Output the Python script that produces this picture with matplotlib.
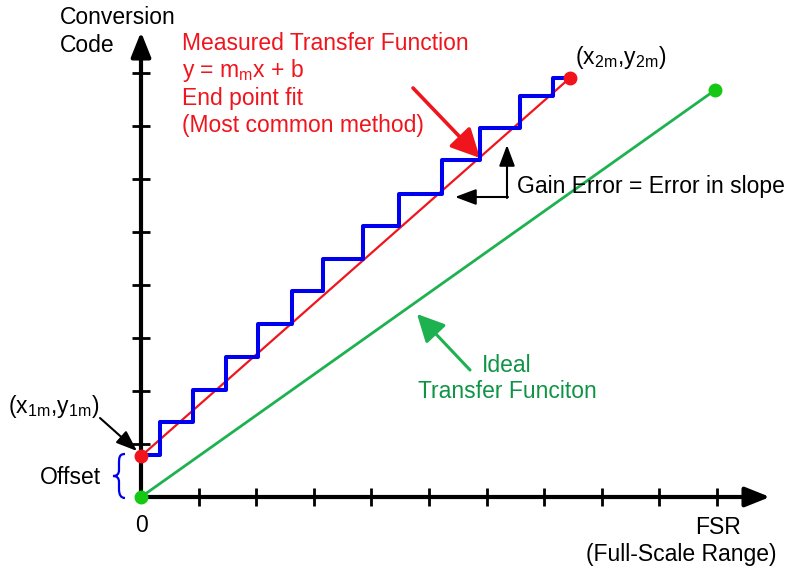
import matplotlib
matplotlib.use('Agg')
import matplotlib.pyplot as plt
from matplotlib.path import Path
from matplotlib.patches import PathPatch

plt.rcParams['font.family'] = ['Liberation Sans', 'DejaVu Sans']
plt.rcParams['mathtext.fontset'] = 'custom'
plt.rcParams['mathtext.rm'] = 'Liberation Sans'
plt.rcParams['mathtext.it'] = 'Liberation Sans'
plt.rcParams['mathtext.default'] = 'regular'

# x in LSB steps (FSR = 10), y in code ticks
x_ticks = [1, 2, 3, 4, 5, 6, 7, 8, 9, 10]
y_ticks = [1, 2, 3, 4, 5, 6, 7, 8]

# measured staircase: x where code changes, code levels
step_x = [0.33, 0.90, 1.48, 2.03, 2.62, 3.16, 3.85, 4.48, 5.23, 5.89, 6.58, 7.15]
step_y = [0.79, 1.42, 2.02, 2.64, 3.26, 3.89, 4.49, 5.11, 5.72, 6.36, 6.96, 7.57, 7.91]

measured_x = [0.0, 7.45]
measured_y = [0.77, 7.91]
ideal_x = [0.0, 9.97]
ideal_y = [0.0, 7.68]

RED = '#f0141c'
GREEN_LINE = '#1db24f'
GREEN_DOT = '#14c814'
GREEN_TXT = '#0f9445'
BLUE = '#0000f0'

W, H = 788, 569
X0, Y0, SX, SY = 141, 497, 57.6, 53.0


def p(px, py):
    # pixel position on the picture -> data coords
    return ((px - X0) / SX, (Y0 - py) / SY)


fig = plt.figure(figsize=(W / 100, H / 100), dpi=100)
ax = fig.add_axes([0, 0, 1, 1])
ax.set_xlim(p(0, 0)[0], p(W, 0)[0])
ax.set_ylim(p(0, H)[1], p(0, 0)[1])
ax.axis('off')

# axes with arrow heads
axis_style = dict(arrowstyle='-|>,head_length=0.75,head_width=0.3', lw=3, color='black',
                  mutation_scale=20, shrinkA=0, shrinkB=0)
ax.annotate('', xy=p(770, Y0), xytext=p(X0 - 3, Y0), arrowprops=axis_style)
ax.annotate('', xy=p(X0, 32), xytext=p(X0, Y0 + 2), arrowprops=axis_style)

tx = 9 / SX
ty = 9 / SY
ax.vlines(x_ticks, -ty, ty, color='black', lw=2.0)
ax.hlines(y_ticks, -tx, tx, color='black', lw=2.0)

# ideal and measured lines
ax.plot(ideal_x, ideal_y, color=GREEN_LINE, lw=2.0, zorder=3)
ax.plot(measured_x, measured_y, color=RED, lw=1.6, zorder=3)

xs = [0.0] + step_x + [measured_x[1]]
ys = step_y + [step_y[-1]]
ax.step(xs, ys, where='post', color=BLUE, lw=2.9, zorder=4)

ax.plot(ideal_x, ideal_y, 'o', color=GREEN_DOT, ms=9, zorder=6)
ax.plot(measured_x, measured_y, 'o', color=RED, ms=9, zorder=6)

# offset brace
verts = [(125, 454), (119, 454), (119, 458), (119, 464), (119, 470),
         (119, 474), (117, 476), (113, 476), (117, 476), (119, 478), (119, 482),
         (119, 489), (119, 495), (121, 498), (125, 498)]
codes = [Path.MOVETO] + [Path.CURVE4] * 3 + [Path.LINETO] + [Path.CURVE4] * 6 + \
        [Path.LINETO] + [Path.CURVE4] * 3
ax.add_patch(PathPatch(Path([p(*v) for v in verts], codes), fill=False,
                       edgecolor=BLUE, lw=1.6))

# annotation arrows
ax.annotate('', xy=p(480, 158), xytext=p(413, 88),
            arrowprops=dict(arrowstyle='-|>,head_length=0.8,head_width=0.4', lw=2.6,
                            color=RED, mutation_scale=22, shrinkA=0, shrinkB=0))
ax.annotate('', xy=p(417, 314), xytext=p(470, 370),
            arrowprops=dict(arrowstyle='-|>,head_length=0.8,head_width=0.4', lw=2.2,
                            color=GREEN_LINE, mutation_scale=21, shrinkA=0, shrinkB=0))
blk = dict(arrowstyle='-|>,head_length=0.8,head_width=0.3', lw=1.5, color='black',
           mutation_scale=16, shrinkA=0, shrinkB=0)
ax.annotate('', xy=p(137, 451), xytext=p(100, 418), arrowprops=blk)
ax.annotate('', xy=p(507, 145), xytext=p(507, 198), arrowprops=blk)
ax.annotate('', xy=p(455, 197), xytext=p(508, 197), arrowprops=blk)

# texts
fs = 16.5
ax.text(*p(60, 18), 'Conversion', fontsize=fs, va='center', ha='left')
ax.text(*p(60, 45), 'Code', fontsize=fs, va='center', ha='left')
red_lines = ['Measured Transfer Function', 'y = m$_{m}$x + b', 'End point fit',
             '(Most common method)']
for i, s in enumerate(red_lines):
    ax.text(*p(182, 43 + 27.5 * i), s, fontsize=fs, color=RED, va='center', ha='left')
ax.text(*p(575, 58), '(x$_{2m}$,y$_{2m}$)', fontsize=fs, va='center', ha='left')
ax.text(*p(517, 187), 'Gain Error = Error in slope', fontsize=fs, va='center', ha='left')
ax.text(*p(8, 407), '(x$_{1m}$,y$_{1m}$)', fontsize=fs, va='center', ha='left')
ax.text(*p(101, 478), 'Offset', fontsize=fs, va='center', ha='right')
ax.text(*p(X0, 525), '0', fontsize=fs, va='center', ha='center')
ax.text(*p(718, 528), 'FSR', fontsize=fs, va='center', ha='center')
ax.text(*p(776, 555), '(Full-Scale Range)', fontsize=fs, va='center', ha='right')
ax.text(*p(507, 365), 'Ideal', fontsize=fs, color=GREEN_TXT, va='center', ha='center')
ax.text(*p(507, 392), 'Transfer Funciton', fontsize=fs, color=GREEN_TXT, va='center',
        ha='center')

fig.savefig('out.png', dpi=100)
